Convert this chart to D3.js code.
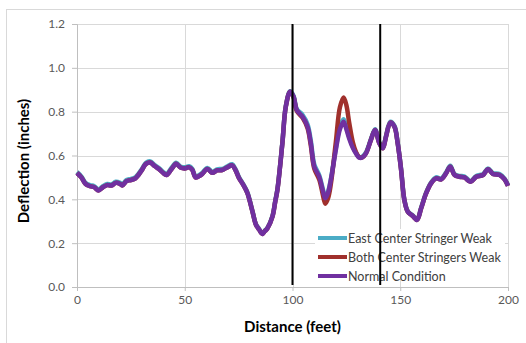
<!DOCTYPE html>
<html>
<head>
<meta charset="utf-8">
<script src="https://cdnjs.cloudflare.com/ajax/libs/d3/7.8.5/d3.min.js"></script>
<style>
  body { margin: 0; background: #fff; }
  svg { display: block; font-family: Lato, "Open Sans", sans-serif; }
</style>
</head>
<body>
<svg id="chart" width="526" height="343"></svg>
<script>
// distance along bridge (feet)
const distance = [0, 2, 4, 6, 8, 10, 12, 14, 16, 18, 20, 21, 23, 25, 27, 28, 30, 32, 34, 36,
  38, 40, 41.5, 44, 46, 48, 50, 52, 53.5, 55, 56.5, 58, 60.5, 62.8, 65, 67.4, 69.8, 72, 73.6, 75.2,
  77, 79, 81.4, 83, 84.5, 86, 87.2, 88.4, 90.7, 92, 93, 95.3, 96.9, 98.9, 100.5, 102, 104.7, 107, 108.5, 110.1,
  112.4, 114, 115.2, 116.5, 117.8, 120.1, 122, 123.7, 125, 126.3, 128, 129.4, 131, 132.5, 134.1, 136.4, 138.3, 140.3, 141.9, 143.4,
  145.4, 147.3, 148.8, 150.4, 151.9, 153.5, 155.8, 157.8, 159.7, 162, 164.3, 166.6, 169, 171.3, 173.2, 175.2, 177.5, 179.8, 182.6, 185.3,
  188.4, 190.7, 193, 196.1, 198.4, 200];

const normalCondition = [0.52, 0.50, 0.47, 0.46, 0.455, 0.44, 0.455, 0.465, 0.463, 0.475, 0.47, 0.463, 0.483, 0.488, 0.495, 0.505, 0.532, 0.562, 0.568, 0.552,
  0.538, 0.52, 0.511, 0.54, 0.562, 0.545, 0.541, 0.546, 0.534, 0.50, 0.505, 0.515, 0.538, 0.521, 0.532, 0.534, 0.546, 0.555, 0.532, 0.496,
  0.468, 0.43, 0.345, 0.285, 0.262, 0.242, 0.255, 0.268, 0.321, 0.39, 0.443, 0.656, 0.823, 0.891, 0.868, 0.807, 0.777, 0.731, 0.656, 0.549,
  0.503, 0.443, 0.405, 0.43, 0.488, 0.625, 0.72, 0.754, 0.72, 0.678, 0.635, 0.61, 0.59, 0.592, 0.61, 0.671, 0.716, 0.656, 0.633, 0.686,
  0.75, 0.731, 0.656, 0.534, 0.397, 0.343, 0.324, 0.306, 0.359, 0.427, 0.473, 0.496, 0.491, 0.519, 0.549, 0.511, 0.503, 0.50, 0.48, 0.503,
  0.511, 0.537, 0.516, 0.511, 0.491, 0.461];

const eastWeak = [0.525, 0.505, 0.475, 0.465, 0.46, 0.445, 0.46, 0.47, 0.468, 0.48, 0.475, 0.468, 0.488, 0.493, 0.50, 0.51, 0.537, 0.567, 0.573, 0.557,
  0.543, 0.525, 0.516, 0.545, 0.567, 0.55, 0.546, 0.551, 0.539, 0.505, 0.51, 0.52, 0.543, 0.526, 0.537, 0.539, 0.551, 0.56, 0.537, 0.50,
  0.472, 0.434, 0.348, 0.288, 0.265, 0.245, 0.258, 0.271, 0.325, 0.394, 0.447, 0.66, 0.826, 0.893, 0.872, 0.812, 0.785, 0.742, 0.668, 0.56,
  0.51, 0.45, 0.41, 0.435, 0.492, 0.632, 0.732, 0.765, 0.73, 0.685, 0.64, 0.613, 0.593, 0.596, 0.614, 0.675, 0.72, 0.66, 0.637, 0.69,
  0.754, 0.735, 0.66, 0.538, 0.40, 0.346, 0.327, 0.309, 0.363, 0.431, 0.477, 0.50, 0.495, 0.523, 0.553, 0.515, 0.507, 0.504, 0.484, 0.507,
  0.515, 0.541, 0.52, 0.515, 0.495, 0.465];

const bothWeak = [0.52, 0.50, 0.47, 0.46, 0.455, 0.44, 0.455, 0.465, 0.463, 0.475, 0.47, 0.463, 0.483, 0.488, 0.495, 0.505, 0.532, 0.562, 0.568, 0.552,
  0.538, 0.52, 0.511, 0.54, 0.562, 0.545, 0.541, 0.546, 0.534, 0.50, 0.505, 0.515, 0.538, 0.521, 0.532, 0.534, 0.546, 0.555, 0.532, 0.496,
  0.468, 0.43, 0.345, 0.285, 0.262, 0.242, 0.255, 0.268, 0.321, 0.39, 0.443, 0.656, 0.823, 0.891, 0.866, 0.803, 0.772, 0.724, 0.645, 0.54,
  0.49, 0.425, 0.38, 0.405, 0.47, 0.66, 0.82, 0.865, 0.83, 0.75, 0.66, 0.617, 0.592, 0.592, 0.61, 0.671, 0.716, 0.656, 0.633, 0.686,
  0.75, 0.731, 0.656, 0.534, 0.397, 0.343, 0.324, 0.306, 0.359, 0.427, 0.473, 0.496, 0.491, 0.519, 0.549, 0.511, 0.503, 0.50, 0.48, 0.503,
  0.511, 0.537, 0.516, 0.511, 0.491, 0.461];

const seriesNames = ['East Center Stringer Weak', 'Both Center Stringers Weak', 'Normal Condition'];
const seriesValues = [eastWeak, bothWeak, normalCondition];
const seriesColors = ['#4bacc6', '#a0302c', '#7030a0'];

const xTicks = [0, 50, 100, 150, 200];
const yTicks = [0, 0.2, 0.4, 0.6, 0.8, 1.0, 1.2];
const markerDistances = [100, 140.7];

const margin = { top: 24, right: 18, bottom: 56, left: 77 };
const width = 526 - margin.left - margin.right;
const height = 343 - margin.top - margin.bottom;

const svg = d3.select('#chart');

// outer chart frame
svg.append('rect')
  .attr('x', 6.5).attr('y', 9.5)
  .attr('width', 540).attr('height', 360)
  .attr('fill', 'none').attr('stroke', '#d9d9d9');

const g = svg.append('g').attr('transform', 'translate(' + margin.left + ',' + margin.top + ')');

const x = d3.scaleLinear().domain([0, 200]).range([0, width]);
const y = d3.scaleLinear().domain([0, 1.2]).range([height, 0]);

// gridlines
g.append('g').selectAll('line.h').data(yTicks).enter().append('line')
  .attr('x1', 0).attr('x2', width)
  .attr('y1', d => Math.round(y(d)) + 0.5).attr('y2', d => Math.round(y(d)) + 0.5)
  .attr('stroke', '#d9d9d9');
g.append('g').selectAll('line.v').data(xTicks).enter().append('line')
  .attr('x1', d => Math.round(x(d)) + 0.5).attr('x2', d => Math.round(x(d)) + 0.5)
  .attr('y1', 0).attr('y2', height)
  .attr('stroke', '#d9d9d9');

// axes
const xAxis = g.append('g').attr('transform', 'translate(0,' + height + ')')
  .call(d3.axisBottom(x).tickValues(xTicks).tickSize(4).tickPadding(4).tickFormat(d3.format('d')));
const yAxis = g.append('g')
  .call(d3.axisLeft(y).tickValues(yTicks).tickSize(5).tickPadding(7).tickFormat(d3.format('.1f')));
[xAxis, yAxis].forEach(a => {
  a.select('.domain').attr('stroke', '#bfbfbf');
  a.selectAll('.tick line').attr('stroke', '#bfbfbf');
  a.selectAll('.tick text').attr('fill', '#595959').style('font-size', '12px').style('font-family', 'Lato, sans-serif');
});

// series
const line = d3.line()
  .x((d, i) => x(distance[i]))
  .y(d => y(d))
  .curve(d3.curveCatmullRom.alpha(0.5));

seriesValues.forEach((vals, i) => {
  g.append('path')
    .datum(vals)
    .attr('d', line)
    .attr('fill', 'none')
    .attr('stroke', seriesColors[i])
    .attr('stroke-width', 4.5)
    .attr('stroke-linejoin', 'round');
});

// legend
const legend = g.append('g').attr('transform', 'translate(' + (318 - margin.left) + ',' + (238 - margin.top) + ')');
legend.append('rect').attr('x', -3).attr('y', -9).attr('width', 190).attr('height', 48).attr('fill', '#fff');
seriesNames.forEach((name, i) => {
  const row = legend.append('g').attr('transform', 'translate(0,' + (i * 19) + ')');
  row.append('line').attr('x1', 0).attr('x2', 29).attr('y1', 0).attr('y2', 0)
    .attr('stroke', seriesColors[i]).attr('stroke-width', 4);
  row.append('text').attr('x', 30).attr('y', 4.5).text(name)
    .attr('fill', '#404040').style('font-size', '12.5px');
});

// vertical marker lines
g.selectAll('line.marker').data(markerDistances).enter().append('line')
  .attr('x1', d => x(d)).attr('x2', d => x(d))
  .attr('y1', 0).attr('y2', height - 2)
  .attr('stroke', '#000').attr('stroke-width', 2);

// axis titles
svg.append('text')
  .attr('x', margin.left + x(100)).attr('y', 332)
  .attr('text-anchor', 'middle')
  .style('font-size', '15px').style('font-weight', 'bold')
  .text('Distance (feet)');
svg.append('text')
  .attr('transform', 'translate(29,161) rotate(-90)')
  .attr('text-anchor', 'middle')
  .style('font-size', '15px').style('font-weight', 'bold')
  .text('Deflection (inches)');
</script>
</body>
</html>
